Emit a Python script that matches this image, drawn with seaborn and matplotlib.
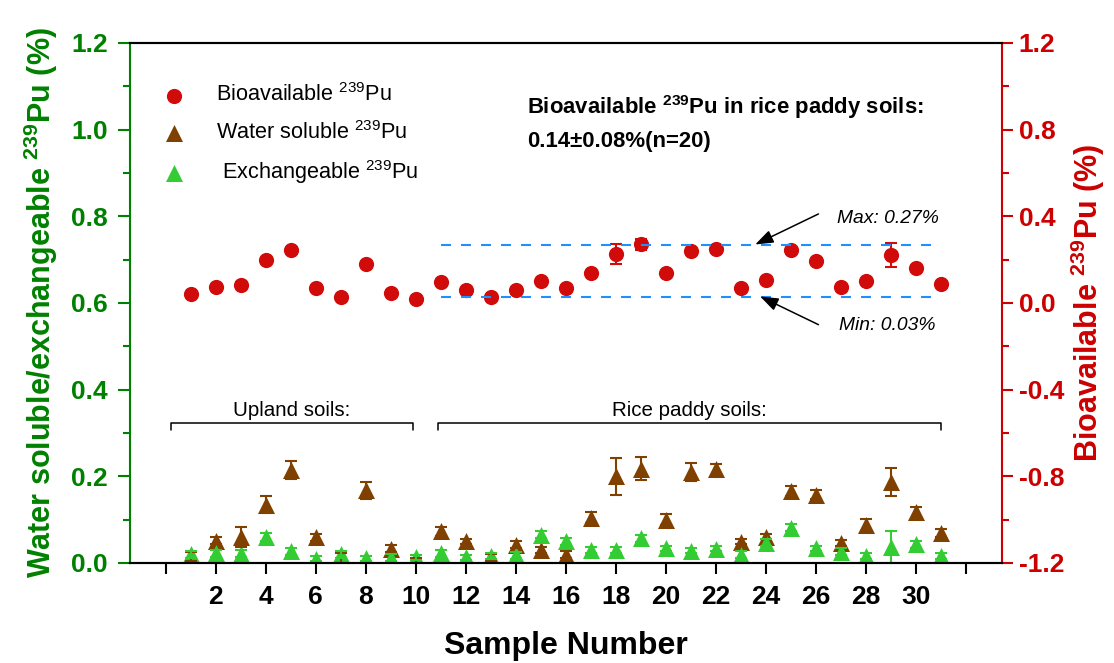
import numpy as np
import pandas as pd
import seaborn as sns
import matplotlib.pyplot as plt
from matplotlib.ticker import MultipleLocator, FormatStrFormatter

samples = list(range(1, 32))

# bioavailable 239Pu (%), right axis
bio = [0.040, 0.074, 0.083, 0.198, 0.245, 0.069, 0.028, 0.178, 0.045, 0.018,
       0.098, 0.060, 0.029, 0.062, 0.101, 0.070, 0.140, 0.226, 0.271, 0.137,
       0.240, 0.249, 0.068, 0.106, 0.245, 0.194, 0.072, 0.103, 0.221, 0.160,
       0.086]
bio_err = [0.006, 0.006, 0.012, 0.008, 0.010, 0.006, 0.006, 0.010, 0.006, 0.006,
           0.006, 0.006, 0.006, 0.006, 0.006, 0.006, 0.008, 0.045, 0.025, 0.006,
           0.012, 0.010, 0.006, 0.006, 0.010, 0.006, 0.006, 0.008, 0.054, 0.010,
           0.006]

# water soluble 239Pu (%), left axis
water = [0.015, 0.051, 0.060, 0.135, 0.214, 0.059, 0.012, 0.168, 0.033, 0.006,
         0.073, 0.050, 0.012, 0.042, 0.030, 0.019, 0.105, 0.200, 0.218, 0.100,
         0.210, 0.216, 0.049, 0.061, 0.166, 0.158, 0.046, 0.087, 0.187, 0.117,
         0.069]
water_err = [0.010, 0.008, 0.023, 0.019, 0.021, 0.008, 0.012, 0.020, 0.008, 0.005,
             0.010, 0.006, 0.008, 0.008, 0.008, 0.008, 0.012, 0.043, 0.027, 0.012,
             0.020, 0.012, 0.006, 0.006, 0.012, 0.010, 0.006, 0.014, 0.033, 0.012,
             0.010]

# exchangeable 239Pu (%), left axis
exch = [0.020, 0.022, 0.021, 0.060, 0.027, 0.010, 0.020, 0.011, 0.012, 0.013,
        0.023, 0.013, 0.016, 0.018, 0.065, 0.050, 0.030, 0.030, 0.057, 0.034,
        0.028, 0.033, 0.019, 0.047, 0.081, 0.034, 0.026, 0.016, 0.037, 0.043,
        0.016]
exch_err = [0.008, 0.008, 0.008, 0.010, 0.008, 0.006, 0.008, 0.006, 0.008, 0.006,
            0.008, 0.006, 0.006, 0.008, 0.008, 0.008, 0.006, 0.006, 0.008, 0.006,
            0.006, 0.006, 0.008, 0.008, 0.008, 0.006, 0.008, 0.006, 0.037, 0.008,
            0.006]

x_ticks = list(range(0, 33, 2))
x_tick_labels = [''] + [str(t) for t in range(2, 31, 2)] + ['']

rice_max = 0.27
rice_min = 0.03
rice_range = (11, 31)
upland_span = (0.2, 9.9)
paddy_span = (10.9, 31.0)

red = '#d10a0a'
red_axis = '#cc0000'
brown = '#804000'
lime = '#33cc33'
green_axis = '#008000'

sns.set_style("ticks")
plt.rcParams['font.family'] = ['Liberation Sans', 'DejaVu Sans']
plt.rcParams['font.weight'] = 'bold'
plt.rcParams['axes.labelweight'] = 'bold'
plt.rcParams['text.color'] = 'black'
plt.rcParams['axes.labelcolor'] = 'black'
plt.rcParams['mathtext.default'] = 'regular'
plt.rcParams['axes.unicode_minus'] = False

df = pd.DataFrame({'sample': samples, 'bio': bio, 'water': water, 'exch': exch})

fig = plt.figure(figsize=(11.14, 6.63), dpi=100)
ax = fig.add_axes([130 / 1114, 1 - 563 / 663, 872 / 1114, 520 / 663])
ax2 = ax.twinx()

# left axis: water soluble and exchangeable
ax.errorbar(samples, water, yerr=water_err, fmt='none', ecolor=brown,
            elinewidth=1.5, capsize=4.5, capthick=1.5)
sns.scatterplot(data=df, x='sample', y='water', ax=ax, marker='^', s=150,
                color=brown, linewidth=0, label='Water soluble $^{239}$Pu')
ax.errorbar(samples, exch, yerr=exch_err, fmt='none', ecolor=lime,
            elinewidth=1.5, capsize=4.5, capthick=1.5)
sns.scatterplot(data=df, x='sample', y='exch', ax=ax, marker='^', s=150,
                color=lime, linewidth=0, label=' Exchangeable $^{239}$Pu')

# right axis: bioavailable
ax2.errorbar(samples, bio, yerr=bio_err, fmt='none', ecolor=red,
             elinewidth=1.5, capsize=4.5, capthick=1.5)
sns.scatterplot(data=df, x='sample', y='bio', ax=ax2, marker='o', s=120,
                color=red, linewidth=0, label='Bioavailable $^{239}$Pu')

# min / max of rice paddy soils
for lvl in (rice_max, rice_min):
    ax2.plot(rice_range, [lvl, lvl], color='#1e90ff', lw=1.5, dashes=(4.8, 4.8))

arrow = dict(arrowstyle='-|>,head_length=0.55,head_width=0.2', color='black',
             lw=1.1, mutation_scale=20, shrinkA=0, shrinkB=0)
ax2.annotate('', xy=(23.57, rice_max), xytext=(26.1, 0.411), arrowprops=arrow)
ax2.annotate('', xy=(23.77, rice_min), xytext=(26.1, -0.10), arrowprops=arrow)
ax2.text(26.84, 0.391, 'Max: 0.27%', fontsize=13.9, style='italic',
         weight='normal', va='center')
ax2.text(26.94, -0.102, 'Min: 0.03%', fontsize=13.9, style='italic',
         weight='normal', va='center')

ax.text(0.455, 0.877, 'Bioavailable $^{239}$Pu in rice paddy soils:',
        transform=ax.transAxes, fontsize=15.9, va='center')
ax.text(0.455, 0.810, '0.14\u00b10.08%(n=20)', transform=ax.transAxes,
        fontsize=15.9, va='center')

# soil group brackets
for (x0, x1), name in ((upland_span, 'Upland soils:'), (paddy_span, 'Rice paddy soils:')):
    ax.plot([x0, x0, x1, x1], [0.307, 0.324, 0.324, 0.307], color='black', lw=1.1)
    ax.text((x0 + x1) / 2, 0.353, name, ha='center', va='center',
            fontsize=14.8, weight='normal')

# axes limits and ticks
ax.set_xlim(-1.43, 33.44)
ax.set_xticks(x_ticks)
ax.set_xticklabels(x_tick_labels)
ax.set_ylim(0, 1.2)
ax.yaxis.set_major_locator(MultipleLocator(0.2))
ax.yaxis.set_minor_locator(MultipleLocator(0.1))
ax.yaxis.set_major_formatter(FormatStrFormatter('%.1f'))
ax2.set_ylim(-1.2, 1.2)
ax2.yaxis.set_major_locator(MultipleLocator(0.4))
ax2.yaxis.set_minor_locator(MultipleLocator(0.2))
ax2.yaxis.set_major_formatter(FormatStrFormatter('%.1f'))

ax.tick_params(axis='x', length=8, width=1.5, pad=8, labelsize=19,
               colors='black', top=False)
ax.tick_params(axis='y', which='major', length=9, width=1.5, pad=7,
               labelsize=19, colors=green_axis, right=False)
ax.tick_params(axis='y', which='minor', length=5, width=1.5, colors=green_axis,
               right=False)
ax2.tick_params(axis='y', which='major', length=8, width=1.5, pad=4,
                labelsize=19, colors=red_axis)
ax2.tick_params(axis='y', which='minor', length=5, width=1.5, colors=red_axis)

for a in (ax, ax2):
    for s in a.spines.values():
        s.set_linewidth(1.5)
        s.set_color('black')
ax.spines['left'].set_color(green_axis)
ax.spines['right'].set_visible(False)
ax2.spines['left'].set_visible(False)
ax2.spines['right'].set_color(red_axis)

ax.set_xlabel('Sample Number', fontsize=23, labelpad=16)
ax.set_ylabel('Water soluble/exchangeable $^{239}$Pu (%)', fontsize=22,
              color=green_axis, labelpad=8)
ax2.set_ylabel('Bioavailable $^{239}$Pu (%)', fontsize=22, color=red_axis,
               labelpad=3)

# combined legend
h1, l1 = ax.get_legend_handles_labels()
h2, l2 = ax2.get_legend_handles_labels()
ax.get_legend().remove()
ax2.get_legend().remove()
ax2.legend(h2 + h1, l2 + l1, loc='upper left', bbox_to_anchor=(0.038, 0.922),
           frameon=False, borderpad=0, borderaxespad=0, handlelength=1.0,
           handletextpad=1.45, labelspacing=0.66,
           prop={'size': 15.6, 'weight': 'normal'})

fig.savefig('out.png', dpi=100)
